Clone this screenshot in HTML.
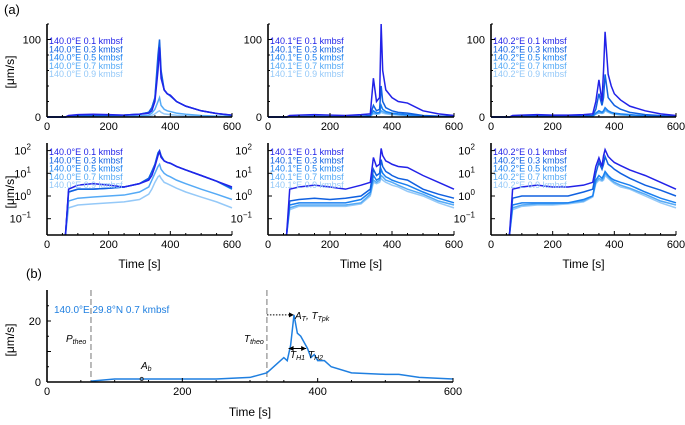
<!DOCTYPE html>
<html><head><meta charset="utf-8"><style>
body{margin:0;background:#fff;}
svg{font-family:"Liberation Sans",sans-serif;}
</style></head><body>
<svg id="c" width="685" height="420" viewBox="0 0 685 420"></svg>
<script>
const times=[60,70,100,150,200,250,300,330,340,350,360,365,370,380,390,400,420,450,500,550,600];
const depths=["0.1","0.3","0.5","0.7","0.9"];
const lons=["140.0","140.1","140.2"];
const p1d1=[0.02,2,3,3.5,3,2.5,3.5,5,8,20,60,90,50,35,30,28,20,14,8,4.5,2.5];
const p1d3=[0.02,1.5,2,2,2.2,2.5,3.5,6,12,25,80,100,60,35,30,28,20,14,8,4.5,2.2];
const p1d5=[0.02,1.5,2,2,2.2,2.5,3.5,6,12,24,70,95,55,35,30,27,20,14,8,4.5,2];
const p1d7=[0.01,0.6,0.8,0.9,1,1.1,1.5,2.5,5,10,20,25,15,10,8,7,5,3.5,2,1.2,0.7];
const p1d9=[0.01,0.3,0.4,0.45,0.5,0.55,0.7,1.2,2,4,7,8,6,4,3.5,3,2.2,1.5,0.9,0.55,0.3];
const p2d1=[0.02,2,2.5,3,2.5,2,3,4,50,20,25,125,60,35,30,25,20,18,8,4,2];
const p2d3=[0.02,0.6,0.7,0.8,0.7,0.8,1,2,15,8,10,40,20,12,10,8,6,5,2,1.2,0.8];
const p2d5=[0.02,0.4,0.5,0.5,0.5,0.5,0.7,1.5,8,5,6,15,10,7,6,5,4,3,1.5,0.8,0.5];
const p2d7=[0.01,0.3,0.4,0.4,0.4,0.4,0.5,1.2,5,4,5,8,7,5,4.5,4,3,2,1.2,0.6,0.4];
const p2d9=[0.01,0.25,0.35,0.35,0.35,0.35,0.45,1,4,3.5,4,6,5,4,3.5,3,2.5,1.6,1,0.5,0.3];
const p3d1=[0.02,2,2.5,3,2.5,2.5,3,4,20,48,20,60,110,55,40,30,22,14,8,4,2];
const p3d3=[0.02,0.8,1,1,1,1,1.5,2,10,30,15,25,55,25,20,15,10,6,3,1.8,1];
const p3d5=[0.02,0.4,0.5,0.5,0.5,0.5,0.7,1,5,8,6,8,12,8,6,5,4,3,1.5,0.8,0.5];
const p3d7=[0.01,0.3,0.4,0.45,0.45,0.5,0.6,1,4,6,5,6,10,7,5,4,3,2.2,1.2,0.6,0.4];
const p3d9=[0.01,0.25,0.35,0.4,0.4,0.45,0.55,0.9,3.5,5,4.5,5,8,6,4.5,3.5,2.5,2,1,0.5,0.3];
const panels=[[p1d1,p1d3,p1d5,p1d7,p1d9],[p2d1,p2d3,p2d5,p2d7,p2d9],[p3d1,p3d3,p3d5,p3d7,p3d9]];
const bTimes=[65,100,150,200,250,300,325,340,350,355,360,365,370,375,380,385,390,395,400,410,420,450,500,520,550,600];
const bVals=[0.3,1,1,1,1,1.5,3,6,8,7,12,22,16,15,13,11,8,9,7,7,5,3,2.5,2.5,1.5,1];
const xTicks=[0,200,400,600];
const colors=["#2222e8","#1060e0","#1a80f0","#55aaf6","#95c9f8"];
const S=document.getElementById('c');const NS="http://www.w3.org/2000/svg";
function el(t,a,p){const e=document.createElementNS(NS,t);for(const k in a)e.setAttribute(k,a[k]);(p||S).appendChild(e);return e;}
function txt(x,y,s,a,p){const e=el('text',Object.assign({x:x,y:y,'font-size':11},a||{}),p);e.textContent=s;return e;}
const cols=[[47,232],[268,454],[491,676]];
function axes(g,x0,x1,yT,yB){
  el('line',{x1:x0,y1:yT,x2:x0,y2:yB,stroke:'#000','stroke-width':1.6},g);
  el('line',{x1:x0,y1:yB,x2:x1,y2:yB,stroke:'#000','stroke-width':1.6},g);
  for(let t=0;t<=600;t+=50){const x=x0+(x1-x0)*t/600;el('line',{x1:x,y1:yB,x2:x,y2:yB-(t%200==0?4:2),stroke:'#000'},g);}
  xTicks.forEach(t=>{txt(x0+(x1-x0)*t/600,yB+13,String(t),{'text-anchor':'middle','font-size':11},g);});
}
cols.forEach((c,pi)=>{
  const [x0,x1]=c;const sx=t=>x0+(x1-x0)*t/600;
  const g=el('g',{});
  
  const yB=117,yT=24,sy=v=>yB-(yB-yT)*Math.min(v,120)/120;
  for(let si=4;si>=0;si--){
    const d=panels[pi][si];let pts=[[sx(0),sy(0)],[sx(times[0]),sy(0)]];
    times.forEach((t,i)=>pts.push([sx(t),sy(d[i])]));
    const p=el('polyline',{points:pts.map(q=>q.join(',')).join(' '),fill:'none',stroke:colors[si],'stroke-width':1.5},g);
    
  }
  axes(g,x0,x1,yT,yB);
  for(let v=20;v<=120;v+=20){el('line',{x1:x0,y1:sy(v),x2:x0+(v%100==0?4:2),y2:sy(v),stroke:'#000'},g);}
  txt(x0-6,sy(0)+4,'0',{'text-anchor':'end'},g);txt(x0-6,sy(100)+4,'100',{'text-anchor':'end'},g);
  depths.forEach((d,i)=>{const t=txt(x0+2,44+i*8.3,lons[pi]+'°E '+d+' kmbsf',{'font-size':9,fill:colors[i]},g);});
  const g2=el('g',{});
  
  const lB=235,lT=143,ly=v=>{const l=Math.log10(Math.max(v,1e-3));return Math.min(lB,196-22.7*l);};
  for(let si=4;si>=0;si--){
    const d=panels[pi][si];const pts=times.map((t,i)=>[sx(t),ly(d[i])]);
    pts.unshift([sx(times[0]),lB]);
    const p=el('polyline',{points:pts.map(q=>q.join(',')).join(' '),fill:'none',stroke:colors[si],'stroke-width':1.5},g2);
    
  }
  axes(g2,x0,x1,lT,lB);
  [-1,0,1,2].forEach(e=>{const y=196-22.7*e;el('line',{x1:x0,y1:y,x2:x0+4,y2:y,stroke:'#000'},g2);
    const t=txt(x0-16,y+4,'10',{'text-anchor':'end'},g2);const s=el('tspan',{dy:-5,'font-size':8},t);s.textContent=String(e).replace('-','−');});
  depths.forEach((d,i)=>{const t=txt(x0+2,155+i*8.3,lons[pi]+'°E '+d+' kmbsf',{'font-size':9,fill:colors[i]},g2);});
  const tl=txt((x0+x1)/2,268,'Time [s]',{'text-anchor':'middle','font-size':12});
});
[[72,'row1'],[192,'row2']].forEach(([y,n])=>{const t=txt(14,y,'[μm/s]',{'text-anchor':'middle','font-size':12,transform:'rotate(-90 14 '+y+')'});});
txt(4,14,'(a)',{'font-size':13});
txt(26,278,'(b)',{'font-size':13});
const bx=t=>47+406*t/600,by=v=>382-3.05*v;
const gb=el('g',{});
el('line',{x1:bx(65),y1:290,x2:bx(65),y2:382,stroke:'#777','stroke-dasharray':'6,3'},gb);
el('line',{x1:bx(325),y1:290,x2:bx(325),y2:382,stroke:'#777','stroke-dasharray':'6,3'},gb);
const bl=el('polyline',{points:bTimes.map((t,i)=>bx(t)+','+by(bVals[i])).join(' '),fill:'none',stroke:'#1f7fe0','stroke-width':1.5},gb);

axes(gb,47,453,290,382);
for(let v=5;v<=25;v+=5){el('line',{x1:47,y1:by(v),x2:47+(v%10==0?4:2),y2:by(v),stroke:'#000'},gb);}
txt(41,by(0)+4,'0',{'text-anchor':'end'},gb);txt(41,by(20)+4,'20',{'text-anchor':'end'},gb);
const yb=txt(14,340,'[μm/s]',{'text-anchor':'middle','font-size':12,transform:'rotate(-90 14 340)'});
const tb=txt(250,416,'Time [s]',{'text-anchor':'middle','font-size':12});
txt(54,313,'140.0°E 29.8°N 0.7 kmbsf',{'font-size':10,fill:'#1f7fe0'},gb);
const it={'font-size':10,'font-style':'italic'};
let t=txt(66,342,'P',it,gb);let s=el('tspan',{'font-size':7,dy:2},t);s.textContent='theo';
t=txt(244,342,'T',it,gb);s=el('tspan',{'font-size':7,dy:2},t);s.textContent='theo';
t=txt(141,369,'A',it,gb);s=el('tspan',{'font-size':7,dy:2},t);s.textContent='b';
el('circle',{cx:bx(140),cy:by(1),r:1.6,fill:'none',stroke:'#333'},gb);
el('line',{x1:bx(325),y1:by(22),x2:bx(362),y2:by(22),stroke:'#000','stroke-dasharray':'1.5,1.5'},gb);
el('path',{d:`M${bx(365)} ${by(22)} l-5 -2.5 v5z`,fill:'#000'},gb);
t=txt(295,319,'A',it,gb);s=el('tspan',{'font-size':7,dy:2},t);s.textContent='T';s=el('tspan',{'font-size':10,dy:-2},t);s.textContent=', T';s=el('tspan',{'font-size':7,dy:2},t);s.textContent='Tpk';
el('line',{x1:bx(357),y1:by(11),x2:bx(383),y2:by(11),stroke:'#000'},gb);
el('path',{d:`M${bx(383)} ${by(11)} l-5 -2.5 v5z M${bx(357)} ${by(11)} l5 -2.5 v5z`,fill:'#000'},gb);
t=txt(290,358,'T',it,gb);s=el('tspan',{'font-size':7,dy:2},t);s.textContent='H1';
t=txt(308,358,'T',it,gb);s=el('tspan',{'font-size':7,dy:2},t);s.textContent='H2';
</script>
</body></html>
